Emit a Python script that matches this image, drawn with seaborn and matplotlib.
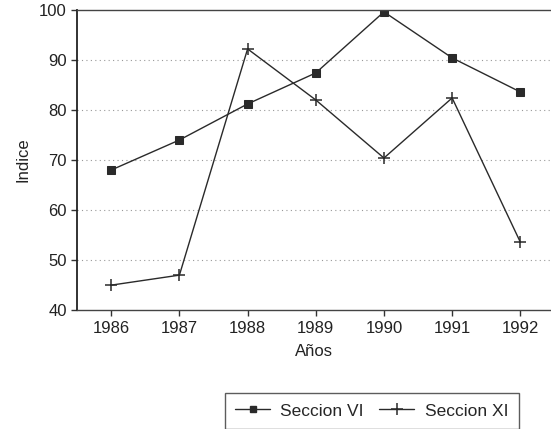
import pandas as pd
import matplotlib
matplotlib.use("Agg")
import matplotlib.pyplot as plt
import seaborn as sns
from matplotlib.lines import Line2D

years = [1986, 1987, 1988, 1989, 1990, 1991, 1992]
seccion_vi = [68.0, 74.0, 81.2, 87.4, 99.6, 90.4, 83.6]
seccion_xi = [45.0, 47.0, 92.2, 82.0, 70.4, 82.4, 53.6]
y_ticks = [40, 50, 60, 70, 80, 90, 100]

df = pd.DataFrame({
    "Año": years * 2,
    "Indice": seccion_vi + seccion_xi,
    "Serie": ["Seccion VI"] * len(years) + ["Seccion XI"] * len(years),
})

sns.set_style("white")
plt.rcParams["font.family"] = ["Liberation Sans", "DejaVu Sans"]

fig = plt.figure(figsize=(5.51, 4.29), dpi=100)
ax = fig.add_axes([0.14, 0.277, 0.86, 0.70])

sns.lineplot(data=df, x="Año", y="Indice", hue="Serie", style="Serie",
             markers={"Seccion VI": "s", "Seccion XI": "P"}, dashes=False,
             palette={"Seccion VI": "#2a2a2a", "Seccion XI": "#2a2a2a"},
             linewidth=1.0, markersize=6, ax=ax, legend=False)
# thin plus markers for Seccion XI
for ln in ax.lines:
    ln.set_markeredgecolor("#2a2a2a")
ax.lines[1].set_marker("+")
ax.lines[1].set_markersize(9)
ax.lines[1].set_markeredgewidth(1.1)

ax.set_xlim(1985.5, 1992.45)
ax.set_ylim(40, 100)
ax.set_yticks(y_ticks)
ax.set_xticks(years)
for y in y_ticks[1:-1]:
    ax.axhline(y, color="#999999", linestyle=(0, (1, 3)), linewidth=0.8, zorder=0)

for s in ["top", "bottom"]:
    ax.spines[s].set_color("#444444")
    ax.spines[s].set_linewidth(1.0)
ax.spines["left"].set_color("#222222")
ax.spines["left"].set_linewidth(1.3)
ax.spines["right"].set_visible(False)

ax.tick_params(axis="both", direction="out", length=4, width=1, color="#333333",
               labelsize=12, labelcolor="#222222", left=True, bottom=True)
ax.set_xlabel("Años", fontsize=12, color="#222222", labelpad=6)
ax.set_ylabel("Indice", fontsize=12, color="#222222", labelpad=6)

handles = [
    Line2D([], [], color="#2a2a2a", marker="s", markersize=5, linewidth=1.0),
    Line2D([], [], color="#2a2a2a", marker="+", markersize=8, markeredgewidth=1.1,
           linewidth=1.0),
]
fig.legend(handles, ["Seccion VI", "Seccion XI"], loc="upper left",
           bbox_to_anchor=(0.408, 0.084), borderaxespad=0, ncol=2, fontsize=12.5,
           frameon=True, fancybox=False, edgecolor="#333333", handlelength=2.0,
           handletextpad=0.6, columnspacing=0.9, borderpad=0.6)

fig.savefig("out.png", dpi=100)
